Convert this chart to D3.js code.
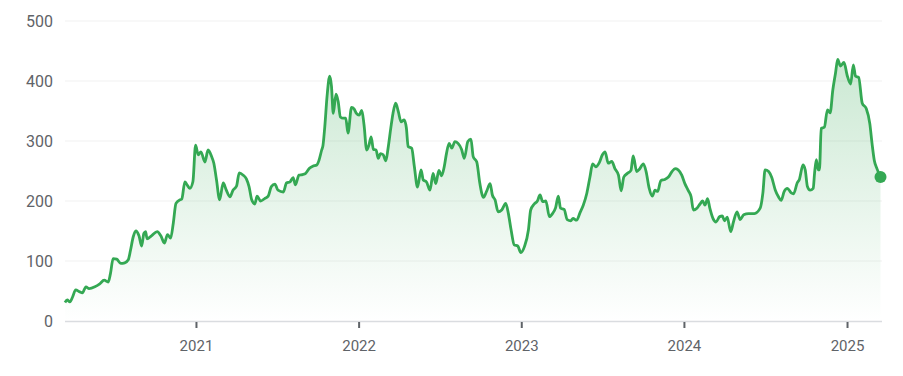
<!DOCTYPE html>
<html>
<head>
<meta charset="utf-8">
<script src="https://cdn.jsdelivr.net/npm/d3@7"></script>
<style>
  body { margin: 0; background: #fff; }
  text { font-family: Roboto, "Noto Sans", sans-serif; fill: #5f6368; }
</style>
</head>
<body>
<svg id="chart" width="903" height="376"></svg>
<script>
// price readings, grouped by year
let dates2020 = ["2020-03-12","2020-03-17","2020-03-23","2020-03-29","2020-04-05","2020-04-13","2020-04-20","2020-04-28","2020-05-05","2020-05-18","2020-05-29","2020-06-08","2020-06-17","2020-06-22","2020-06-28","2020-07-06","2020-07-15","2020-07-24","2020-08-01","2020-08-06","2020-08-12","2020-08-18","2020-08-25","2020-08-31","2020-09-05","2020-09-09","2020-09-12","2020-09-22","2020-10-05","2020-10-13","2020-10-21","2020-10-28","2020-11-04","2020-11-10","2020-11-16","2020-11-25","2020-11-29","2020-12-06","2020-12-11","2020-12-17","2020-12-24","2020-12-30"];
let close2020 = [31,35,32,40,52,49,47,57,54,57,62,68,65,79,104,103,96,97,102,118,140,150,142,125,146,149,137,142,149,142,130,144,138,163,196,202,203,232,227,221,232,293];

let dates2021 = ["2021-01-05","2021-01-11","2021-01-20","2021-01-27","2021-02-04","2021-02-09","2021-02-15","2021-02-22","2021-03-02","2021-03-09","2021-03-17","2021-03-24","2021-04-01","2021-04-07","2021-04-16","2021-04-23","2021-04-29","2021-05-05","2021-05-12","2021-05-17","2021-05-25","2021-06-03","2021-06-11","2021-06-18","2021-06-26","2021-07-03","2021-07-15","2021-07-22","2021-07-30","2021-08-06","2021-08-11","2021-08-19","2021-08-27","2021-09-03","2021-09-11","2021-09-19","2021-09-28","2021-10-03","2021-10-09","2021-10-12","2021-10-16","2021-10-21","2021-10-27","2021-10-31","2021-11-04","2021-11-10","2021-11-15","2021-11-20","2021-11-26","2021-12-02","2021-12-07","2021-12-15","2021-12-21","2021-12-26"];
let close2021 = [277,282,265,285,274,263,235,202,230,218,207,218,225,247,243,237,224,202,195,208,200,204,208,224,228,218,215,230,232,239,227,243,244,246,254,258,260,268,285,293,324,374,408,391,346,378,366,340,338,338,313,356,353,346];

let dates2022 = ["2022-01-01","2022-01-07","2022-01-12","2022-01-18","2022-01-23","2022-01-28","2022-02-02","2022-02-08","2022-02-13","2022-02-18","2022-02-24","2022-03-02","2022-03-07","2022-03-13","2022-03-18","2022-03-24","2022-03-30","2022-04-05","2022-04-12","2022-04-17","2022-04-21","2022-04-29","2022-05-05","2022-05-12","2022-05-20","2022-05-25","2022-06-01","2022-06-09","2022-06-16","2022-06-22","2022-06-29","2022-07-05","2022-07-11","2022-07-16","2022-07-22","2022-07-28","2022-08-04","2022-08-11","2022-08-19","2022-08-25","2022-09-02","2022-09-09","2022-09-14","2022-09-22","2022-09-29","2022-10-07","2022-10-14","2022-10-22","2022-10-27","2022-11-02","2022-11-09","2022-11-17","2022-11-26","2022-12-02","2022-12-08","2022-12-15","2022-12-23","2022-12-30"];
let close2022 = [343,351,327,285,293,307,286,285,271,279,277,267,288,321,346,363,349,332,335,322,291,288,257,223,252,235,232,218,246,229,251,242,257,279,296,288,299,296,286,271,299,303,274,265,229,206,216,229,210,202,182,185,196,179,152,127,125,114];

let dates2023 = ["2023-01-07","2023-01-16","2023-01-21","2023-01-29","2023-02-05","2023-02-11","2023-02-17","2023-02-24","2023-03-04","2023-03-11","2023-03-18","2023-03-24","2023-03-29","2023-04-06","2023-04-13","2023-04-21","2023-04-26","2023-05-04","2023-05-12","2023-05-19","2023-05-27","2023-06-03","2023-06-09","2023-06-16","2023-06-24","2023-07-01","2023-07-07","2023-07-14","2023-07-22","2023-07-29","2023-08-06","2023-08-12","2023-08-18","2023-08-26","2023-09-03","2023-09-08","2023-09-16","2023-09-22","2023-10-01","2023-10-07","2023-10-14","2023-10-21","2023-10-27","2023-11-02","2023-11-09","2023-11-18","2023-11-26","2023-12-04","2023-12-11","2023-12-18","2023-12-26"];
let close2023 = [124,152,185,195,200,210,199,200,174,179,189,208,188,186,169,167,171,168,181,193,213,240,262,257,264,277,282,263,266,254,243,217,240,246,251,275,249,253,262,249,221,208,218,216,234,236,240,249,254,252,243];

let dates2024 = ["2024-01-02","2024-01-10","2024-01-16","2024-01-21","2024-01-29","2024-02-05","2024-02-11","2024-02-16","2024-02-22","2024-02-27","2024-03-05","2024-03-12","2024-03-20","2024-03-26","2024-03-31","2024-04-06","2024-04-14","2024-04-20","2024-04-28","2024-05-05","2024-05-13","2024-05-24","2024-06-06","2024-06-19","2024-06-25","2024-06-30","2024-07-08","2024-07-15","2024-07-23","2024-07-30","2024-08-05","2024-08-12","2024-08-19","2024-08-27","2024-09-02","2024-09-10","2024-09-15","2024-09-23","2024-09-28","2024-10-03","2024-10-09","2024-10-16","2024-10-19","2024-10-23","2024-10-27","2024-10-30","2024-11-03","2024-11-10","2024-11-17","2024-11-23","2024-11-29","2024-12-05","2024-12-10","2024-12-16","2024-12-24","2024-12-31"];
let close2024 = [229,217,207,185,188,195,200,193,204,188,171,165,174,175,167,173,149,165,182,169,177,179,179,188,213,252,249,239,218,207,201,216,221,214,212,230,236,260,252,224,218,221,246,269,252,252,321,323,352,347,385,413,436,425,431,410];

let dates2025 = ["2025-01-08","2025-01-14","2025-01-19","2025-01-26","2025-02-03","2025-02-12","2025-02-20","2025-02-25","2025-03-02","2025-03-08","2025-03-16"];
let close2025 = [395,427,408,406,363,354,329,296,268,254,240];

let yTicks = [0, 100, 200, 300, 400, 500];
let yearTicks = ["2021", "2022", "2023", "2024", "2025"];

let parse = d3.timeParse("%Y-%m-%d");
let allDates = [].concat(dates2020, dates2021, dates2022, dates2023, dates2024, dates2025);
let allClose = [].concat(close2020, close2021, close2022, close2023, close2024, close2025);
let data = allDates.map((d, i) => ({ date: parse(d), value: allClose[i] }));

let plotLeft = 65, plotRight = 880.5, plotTop = 21, plotBottom = 321;
let green = "#34a853";

let x = d3.scaleTime()
    .domain(d3.extent(data, d => d.date))
    .range([plotLeft, plotRight]);

let y = d3.scaleLinear()
    .domain([0, 500])
    .range([plotBottom, plotTop]);

let svg = d3.select("#chart");

// gradient for the area under the line
let grad = svg.append("defs").append("linearGradient")
    .attr("id", "fillGrad")
    .attr("gradientUnits", "userSpaceOnUse")
    .attr("x1", 0).attr("x2", 0)
    .attr("y1", y(440)).attr("y2", y(0));
grad.append("stop").attr("offset", "0%").attr("stop-color", green).attr("stop-opacity", 0.26);
grad.append("stop").attr("offset", "100%").attr("stop-color", green).attr("stop-opacity", 0.0);

// grid lines
svg.append("g")
    .selectAll("line")
    .data(yTicks.filter(d => d > 0))
    .join("line")
    .attr("x1", plotLeft)
    .attr("x2", 882)
    .attr("y1", d => y(d))
    .attr("y2", d => y(d))
    .attr("stroke", "#f1f1f1")
    .attr("stroke-width", 1);

// y labels
svg.append("g")
    .selectAll("text")
    .data(yTicks)
    .join("text")
    .attr("x", 53)
    .attr("y", d => y(d))
    .attr("dy", "0.35em")
    .attr("text-anchor", "end")
    .attr("font-size", "16px")
    .text(d => d);

// area + line
let area = d3.area()
    .x(d => x(d.date))
    .y0(y(0))
    .y1(d => y(d.value))
    .curve(d3.curveMonotoneX);

let line = d3.line()
    .x(d => x(d.date))
    .y(d => y(d.value))
    .curve(d3.curveMonotoneX);

svg.append("path")
    .datum(data)
    .attr("d", area)
    .attr("fill", "url(#fillGrad)");

// baseline
svg.append("line")
    .attr("x1", plotLeft)
    .attr("x2", 882)
    .attr("y1", y(0) + 0.5)
    .attr("y2", y(0) + 0.5)
    .attr("stroke", "#dadce0")
    .attr("stroke-width", 1.5);

svg.append("path")
    .datum(data)
    .attr("d", line)
    .attr("fill", "none")
    .attr("stroke", green)
    .attr("stroke-width", 2.8)
    .attr("stroke-linejoin", "round");

// x axis ticks and labels
let xg = svg.append("g")
    .selectAll("g")
    .data(yearTicks)
    .join("g")
    .attr("transform", d => "translate(" + x(parse(d + "-01-01")) + ",0)");

xg.append("line")
    .attr("y1", plotBottom + 1)
    .attr("y2", plotBottom + 7)
    .attr("stroke", "#5f6368")
    .attr("stroke-width", 2);

xg.append("text")
    .attr("y", 346)
    .attr("dy", "0.35em")
    .attr("text-anchor", "middle")
    .attr("font-size", "15px")
    .text(d => d);

// end dot
let last = data[data.length - 1];
svg.append("circle")
    .attr("cx", x(last.date))
    .attr("cy", y(last.value))
    .attr("r", 6)
    .attr("fill", green);
</script>
</body>
</html>
